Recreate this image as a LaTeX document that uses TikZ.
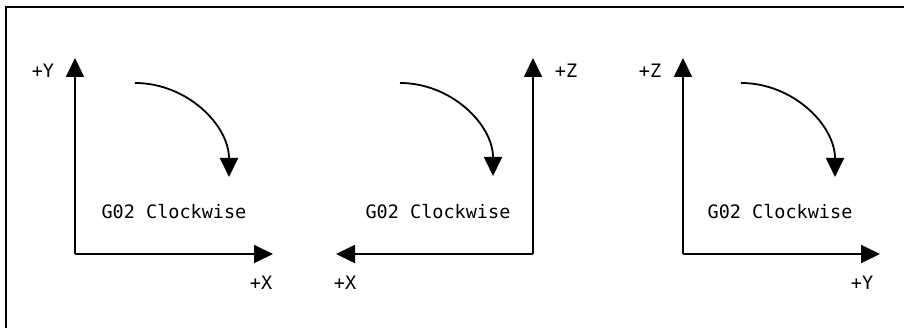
\documentclass[tikz,border=0pt]{standalone}
\usepackage{fontspec}
\newfontfamily\cadfont{DejaVu Sans Mono}
\usetikzlibrary{arrows.meta}

\begin{document}
\begin{tikzpicture}[x=1pt,y=-1pt,line join=miter,
  >={Triangle[length=19pt,width=18pt]},
  axis/.style={line width=1.8pt,->},
  turn/.style={line width=1.8pt,->},
  lbl/.style={font=\cadfont\fontsize{18.5}{18.5}\selectfont,inner sep=0pt}]
  \useasboundingbox (0,0) rectangle (904,328);
  % frame
  \draw[line width=2pt] (6,328) -- (6,7) -- (904,7);

  % X-Y plane
  \coordinate (o1) at (75,254);
  \coordinate (v1) at (75,58);
  \coordinate (h1) at (273,254);
  \coordinate (a1) at (135,83);
  \draw[axis] (o1) -- (v1);
  \draw[axis] (o1) -- (h1);
  \draw[turn] (a1) arc[start angle=-90,end angle=0,radius=94];
  \node[lbl] (ly1) at (43,71) {+Y};
  \node[lbl] (lx1) at (261,283) {+X};
  \node[lbl] (g1) at (174,212) {G02 Clockwise};

  % X-Z plane
  \coordinate (o2) at (533,254);
  \coordinate (v2) at (533,58);
  \coordinate (h2) at (336,254);
  \coordinate (a2) at (400,83);
  \draw[axis] (o2) -- (v2);
  \draw[axis] (o2) -- (h2);
  \draw[turn] (a2) arc[start angle=-90,end angle=0,radius=93];
  \node[lbl] (lz2) at (566,71) {+Z};
  \node[lbl] (lx2) at (345,283) {+X};
  \node[lbl] (g2) at (438,212) {G02 Clockwise};

  % Y-Z plane
  \coordinate (o3) at (683,254);
  \coordinate (v3) at (683,58);
  \coordinate (h3) at (880,254);
  \coordinate (a3) at (741,83);
  \draw[axis] (o3) -- (v3);
  \draw[axis] (o3) -- (h3);
  \draw[turn] (a3) arc[start angle=-90,end angle=0,radius=94];
  \node[lbl] (lz3) at (650,71) {+Z};
  \node[lbl] (ly3) at (862,283) {+Y};
  \node[lbl] (g3) at (780,212) {G02 Clockwise};
\end{tikzpicture}
\end{document}
